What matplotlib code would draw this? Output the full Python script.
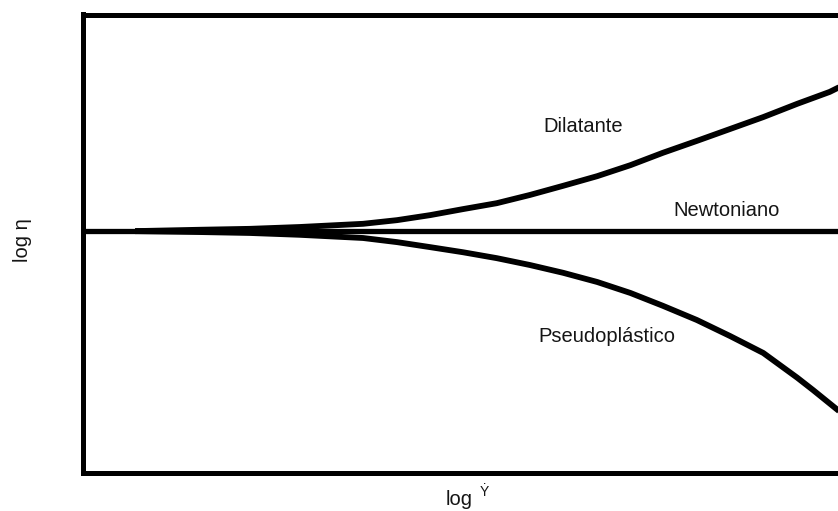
import matplotlib
matplotlib.use("Agg")
import matplotlib.pyplot as plt

plt.rcParams['font.family'] = ['Liberation Sans', 'DejaVu Sans']

# log(shear rate) in arbitrary units (0..10 across the visible frame), log(viscosity) 0..10
newt_x = [0.0, 10.2]
newt_y = [5.27, 5.27]

dil_x = [0.69, 1.55, 2.21, 2.87, 3.71, 4.16, 4.60, 5.03, 5.48, 5.92, 6.36, 6.81, 7.25,
         7.68, 8.13, 8.57, 9.01, 9.46, 9.89, 10.0, 10.2]
dil_y = [5.27, 5.30, 5.32, 5.36, 5.43, 5.51, 5.62, 5.75, 5.88, 6.06, 6.26, 6.47, 6.71,
         6.98, 7.24, 7.50, 7.76, 8.05, 8.31, 8.40, 8.52]

pse_x = [0.69, 1.55, 2.21, 2.87, 3.71, 4.16, 4.60, 5.03, 5.48, 5.92, 6.36, 6.81, 7.25,
         7.68, 8.13, 8.57, 9.01, 9.46, 9.67, 10.0, 10.2]
pse_y = [5.27, 5.25, 5.23, 5.19, 5.12, 5.03, 4.92, 4.81, 4.68, 4.53, 4.36, 4.16, 3.92,
         3.64, 3.33, 2.98, 2.61, 2.07, 1.80, 1.36, 1.10]

labels = {"Dilatante": (6.63, 7.56), "Newtoniano": (8.53, 5.71), "Pseudoplástico": (6.94, 2.98)}

fig = plt.figure(figsize=(8.38, 5.11), dpi=100)
ax = fig.add_axes([83/838, 38.5/511, (850-83)/838, (496.5-38.5)/511])
ax.set_xlim(0, (850-83)/75.5)
ax.set_ylim(0, 10)

lw = 4.2
ax.plot(newt_x, newt_y, color='black', lw=3.8, solid_capstyle='butt')
ax.plot(dil_x, dil_y, color='black', lw=lw, solid_capstyle='butt', solid_joinstyle='round')
ax.plot(pse_x, pse_y, color='black', lw=lw, solid_capstyle='butt', solid_joinstyle='round')

for t, (x, y) in labels.items():
    ax.text(x, y, t, ha='center', va='center', fontsize=14.5, color='#151515')

for s in ax.spines.values():
    s.set_linewidth(3.6)
ax.set_xticks([])
ax.set_yticks([])

fig.text(22/838, 1-240/511, 'log η', rotation=90, ha='center', va='center', fontsize=14.5, color='#151515')
fig.text(459/838, 1-499/511, 'log', ha='center', va='center', fontsize=14.5, color='#151515')
fig.text(484/838, 1-492/511, 'Ẏ', ha='center', va='center', fontsize=10, color='#151515')

fig.savefig('out.png', dpi=100)
